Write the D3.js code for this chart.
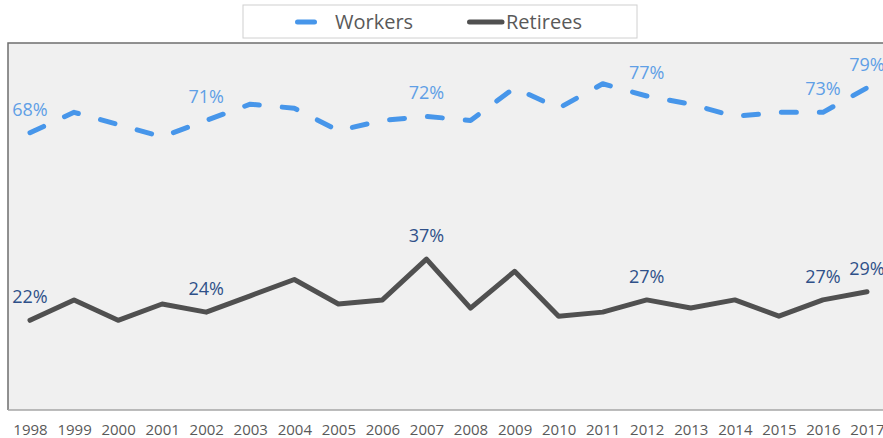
<!DOCTYPE html>
<html>
<head>
<meta charset="utf-8">
<script src="https://cdn.jsdelivr.net/npm/d3@7"></script>
<style>
  html, body { margin: 0; padding: 0; background: #ffffff; }
  svg { display: block; }
  text { font-family: "Open Sans", "Noto Sans", sans-serif; }
</style>
</head>
<body>
<svg id="chart" width="883" height="438"></svg>
<script>
const years = [1998, 1999, 2000, 2001, 2002, 2003, 2004, 2005, 2006, 2007, 2008, 2009, 2010, 2011, 2012, 2013, 2014, 2015, 2016, 2017];
const workers  = [68, 73, 70, 67, 71, 75, 74, 68.5, 71, 72, 71, 79, 74, 80, 77, 75, 72, 73, 73, 79];
const retirees = [22, 27, 22, 26, 24, 28, 32, 26, 27, 37, 25, 34, 23, 24, 27, 25, 27, 23, 27, 29];
const labelYears = [1998, 2002, 2007, 2012, 2016, 2017];
const seriesNames = ["Workers", "Retirees"];

const svg = d3.select("#chart");
const plot = { left: 8, top: 43, right: 900, bottom: 410 };

const x = d3.scalePoint().domain(years).range([30, 867]);
const y = d3.scaleLinear().domain([0, 90]).range([plot.bottom, plot.top]);

// plot background
svg.append("rect")
  .attr("x", plot.left).attr("y", plot.top)
  .attr("width", plot.right - plot.left).attr("height", plot.bottom - plot.top)
  .attr("fill", "#f0f0f0");
// top + left border
svg.append("path")
  .attr("d", `M${plot.left},${plot.bottom} V${plot.top} H${plot.right}`)
  .attr("fill", "none").attr("stroke", "#6e6e6e").attr("stroke-width", 1.5);
// bottom axis line
svg.append("line")
  .attr("x1", plot.left).attr("x2", plot.right)
  .attr("y1", plot.bottom).attr("y2", plot.bottom)
  .attr("stroke", "#a6a6a6").attr("stroke-width", 1.5);

// x axis labels
const xAxis = d3.axisBottom(x).tickSize(0).tickPadding(0);
const gx = svg.append("g").attr("transform", `translate(0,${plot.bottom})`).call(xAxis);
gx.select(".domain").remove();
gx.selectAll("text")
  .attr("dy", null).attr("y", 25)
  .attr("fill", "#595959")
  .style("font-size", "15px")
  .style("font-family", "'Open Sans', sans-serif");

const line = d3.line().x((d, i) => x(years[i])).y(d => y(d));

svg.append("path")
  .datum(retirees)
  .attr("d", line)
  .attr("fill", "none")
  .attr("stroke", "#505050")
  .attr("stroke-width", 5)
  .attr("stroke-linejoin", "round")
  .attr("stroke-linecap", "round");

svg.append("path")
  .datum(workers)
  .attr("d", line)
  .attr("fill", "none")
  .attr("stroke", "#4796ea")
  .attr("stroke-width", 5)
  .attr("stroke-linejoin", "round")
  .attr("stroke-linecap", "round")
  .attr("stroke-dasharray", "15,23");

// data labels
function addLabels(vals, color) {
  svg.append("g").selectAll("text")
    .data(labelYears)
    .join("text")
    .attr("x", d => x(d))
    .attr("y", d => y(vals[years.indexOf(d)]) - 17)
    .attr("text-anchor", "middle")
    .attr("fill", color)
    .style("font-size", "18px")
    .text(d => Math.round(vals[years.indexOf(d)]) + "%");
}
addLabels(workers, "#5f9fe6");
addLabels(retirees, "#2f5089");

// legend
const lg = svg.append("g");
lg.append("rect")
  .attr("x", 243).attr("y", 5).attr("width", 394).attr("height", 33)
  .attr("fill", "#ffffff").attr("stroke", "#d0d0d0").attr("stroke-width", 1);
lg.append("line")
  .attr("x1", 297.5).attr("x2", 314.5).attr("y1", 22).attr("y2", 22)
  .attr("stroke", "#4796ea").attr("stroke-width", 5).attr("stroke-linecap", "round");
lg.append("text").attr("x", 335).attr("y", 29)
  .attr("fill", "#595959").style("font-size", "20px").text(seriesNames[0]);
lg.append("line")
  .attr("x1", 469.5).attr("x2", 502).attr("y1", 22).attr("y2", 22)
  .attr("stroke", "#505050").attr("stroke-width", 5).attr("stroke-linecap", "round");
lg.append("text").attr("x", 506).attr("y", 29)
  .attr("fill", "#595959").style("font-size", "20px").text(seriesNames[1]);
</script>
</body>
</html>
